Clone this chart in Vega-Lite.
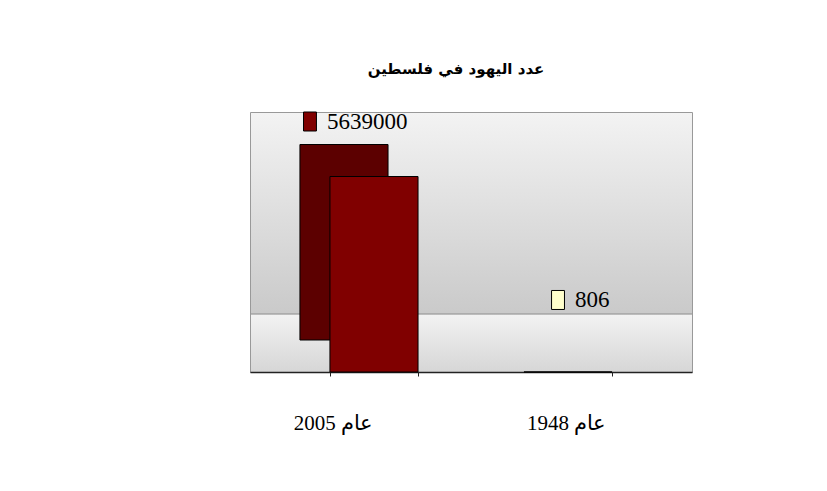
{
  "$schema": "https://vega.github.io/schema/vega-lite/v6.json",
  "autosize": {"type": "none"},
  "width": 442,
  "height": 260,
  "padding": {"left": 250, "top": 112, "right": 135, "bottom": 119},
  "background": "white",
  "title": {
    "text": "عدد اليهود في فلسطين",
    "font": "DejaVu Sans",
    "fontSize": 15,
    "fontWeight": "bold",
    "color": "#000000",
    "anchor": "middle",
    "dx": -15,
    "offset": 33
  },
  "config": {
    "view": {
      "stroke": "#999999",
      "strokeWidth": 1,
      "fill": {
        "gradient": "linear",
        "x1": 0, "y1": 0, "x2": 0, "y2": 1,
        "stops": [
          {"offset": 0, "color": "#f3f3f3"},
          {"offset": 0.77, "color": "#cacaca"},
          {"offset": 0.775, "color": "#999999"},
          {"offset": 0.78, "color": "#f2f2f2"},
          {"offset": 1, "color": "#d6d6d6"}
        ]
      }
    }
  },
  "data": {
    "values": [
      {"year": "عام 2005", "value": 5639000},
      {"year": "عام 1948", "value": 806}
    ]
  },
  "encoding": {
    "x": {
      "field": "year",
      "type": "nominal",
      "sort": null,
      "scale": {"paddingInner": 0.546, "paddingOuter": 0.412},
      "axis": {
        "title": null,
        "labelAngle": 0,
        "labelFont": "Liberation Serif",
        "labelFontSize": 21,
        "labelColor": "#000000",
        "labelPadding": 36,
        "labelOffset": {"condition": {"test": "datum.value == 'عام 2005'", "value": -41}, "value": -2},
        "domainColor": "#222222",
        "domainWidth": 1.5,
        "tickColor": "#222222",
        "tickSize": 4,
        "tickBand": "extent"
      }
    },
    "y": {
      "field": "value",
      "type": "quantitative",
      "scale": {"domain": [0, 7500000]},
      "axis": null
    }
  },
  "layer": [
    {
      "transform": [{"filter": "datum.value > 1000"}],
      "mark": {"type": "bar", "color": "#5c0000", "stroke": "#000000", "strokeWidth": 1, "xOffset": -30, "x2Offset": -30, "yOffset": -32, "y2Offset": -32}
    },
    {
      "mark": {"type": "bar", "stroke": "#000000", "strokeWidth": 1},
      "encoding": {
        "color": {
          "field": "year",
          "type": "nominal",
          "scale": {"domain": ["عام 2005", "عام 1948"], "range": ["#800000", "#cccc99"]},
          "legend": null
        }
      }
    },
    {
      "transform": [{"filter": "datum.year == 'عام 2005'"}],
      "layer": [
        {
          "mark": {"type": "point", "shape": "M-0.68,-1L0.68,-1L0.68,1L-0.68,1Z", "size": 361, "filled": true, "fill": "#800000", "stroke": "#000000", "strokeWidth": 1, "opacity": 1, "xOffset": -64, "yOffset": -55}
        },
        {
          "mark": {"type": "text", "font": "Liberation Serif", "fontSize": 23, "align": "left", "baseline": "middle", "color": "#000000", "xOffset": -47, "yOffset": -55},
          "encoding": {"text": {"field": "value", "type": "quantitative", "format": "d"}}
        }
      ]
    },
    {
      "transform": [{"filter": "datum.year == 'عام 1948'"}],
      "layer": [
        {
          "mark": {"type": "point", "shape": "M-0.68,-1L0.68,-1L0.68,1L-0.68,1Z", "size": 361, "filled": true, "fill": "#ffffcc", "stroke": "#000000", "strokeWidth": 1, "opacity": 1, "xOffset": -10, "yOffset": -72}
        },
        {
          "mark": {"type": "text", "font": "Liberation Serif", "fontSize": 23, "align": "left", "baseline": "middle", "color": "#000000", "xOffset": 7, "yOffset": -72},
          "encoding": {"text": {"field": "value", "type": "quantitative", "format": "d"}}
        }
      ]
    }
  ]
}
